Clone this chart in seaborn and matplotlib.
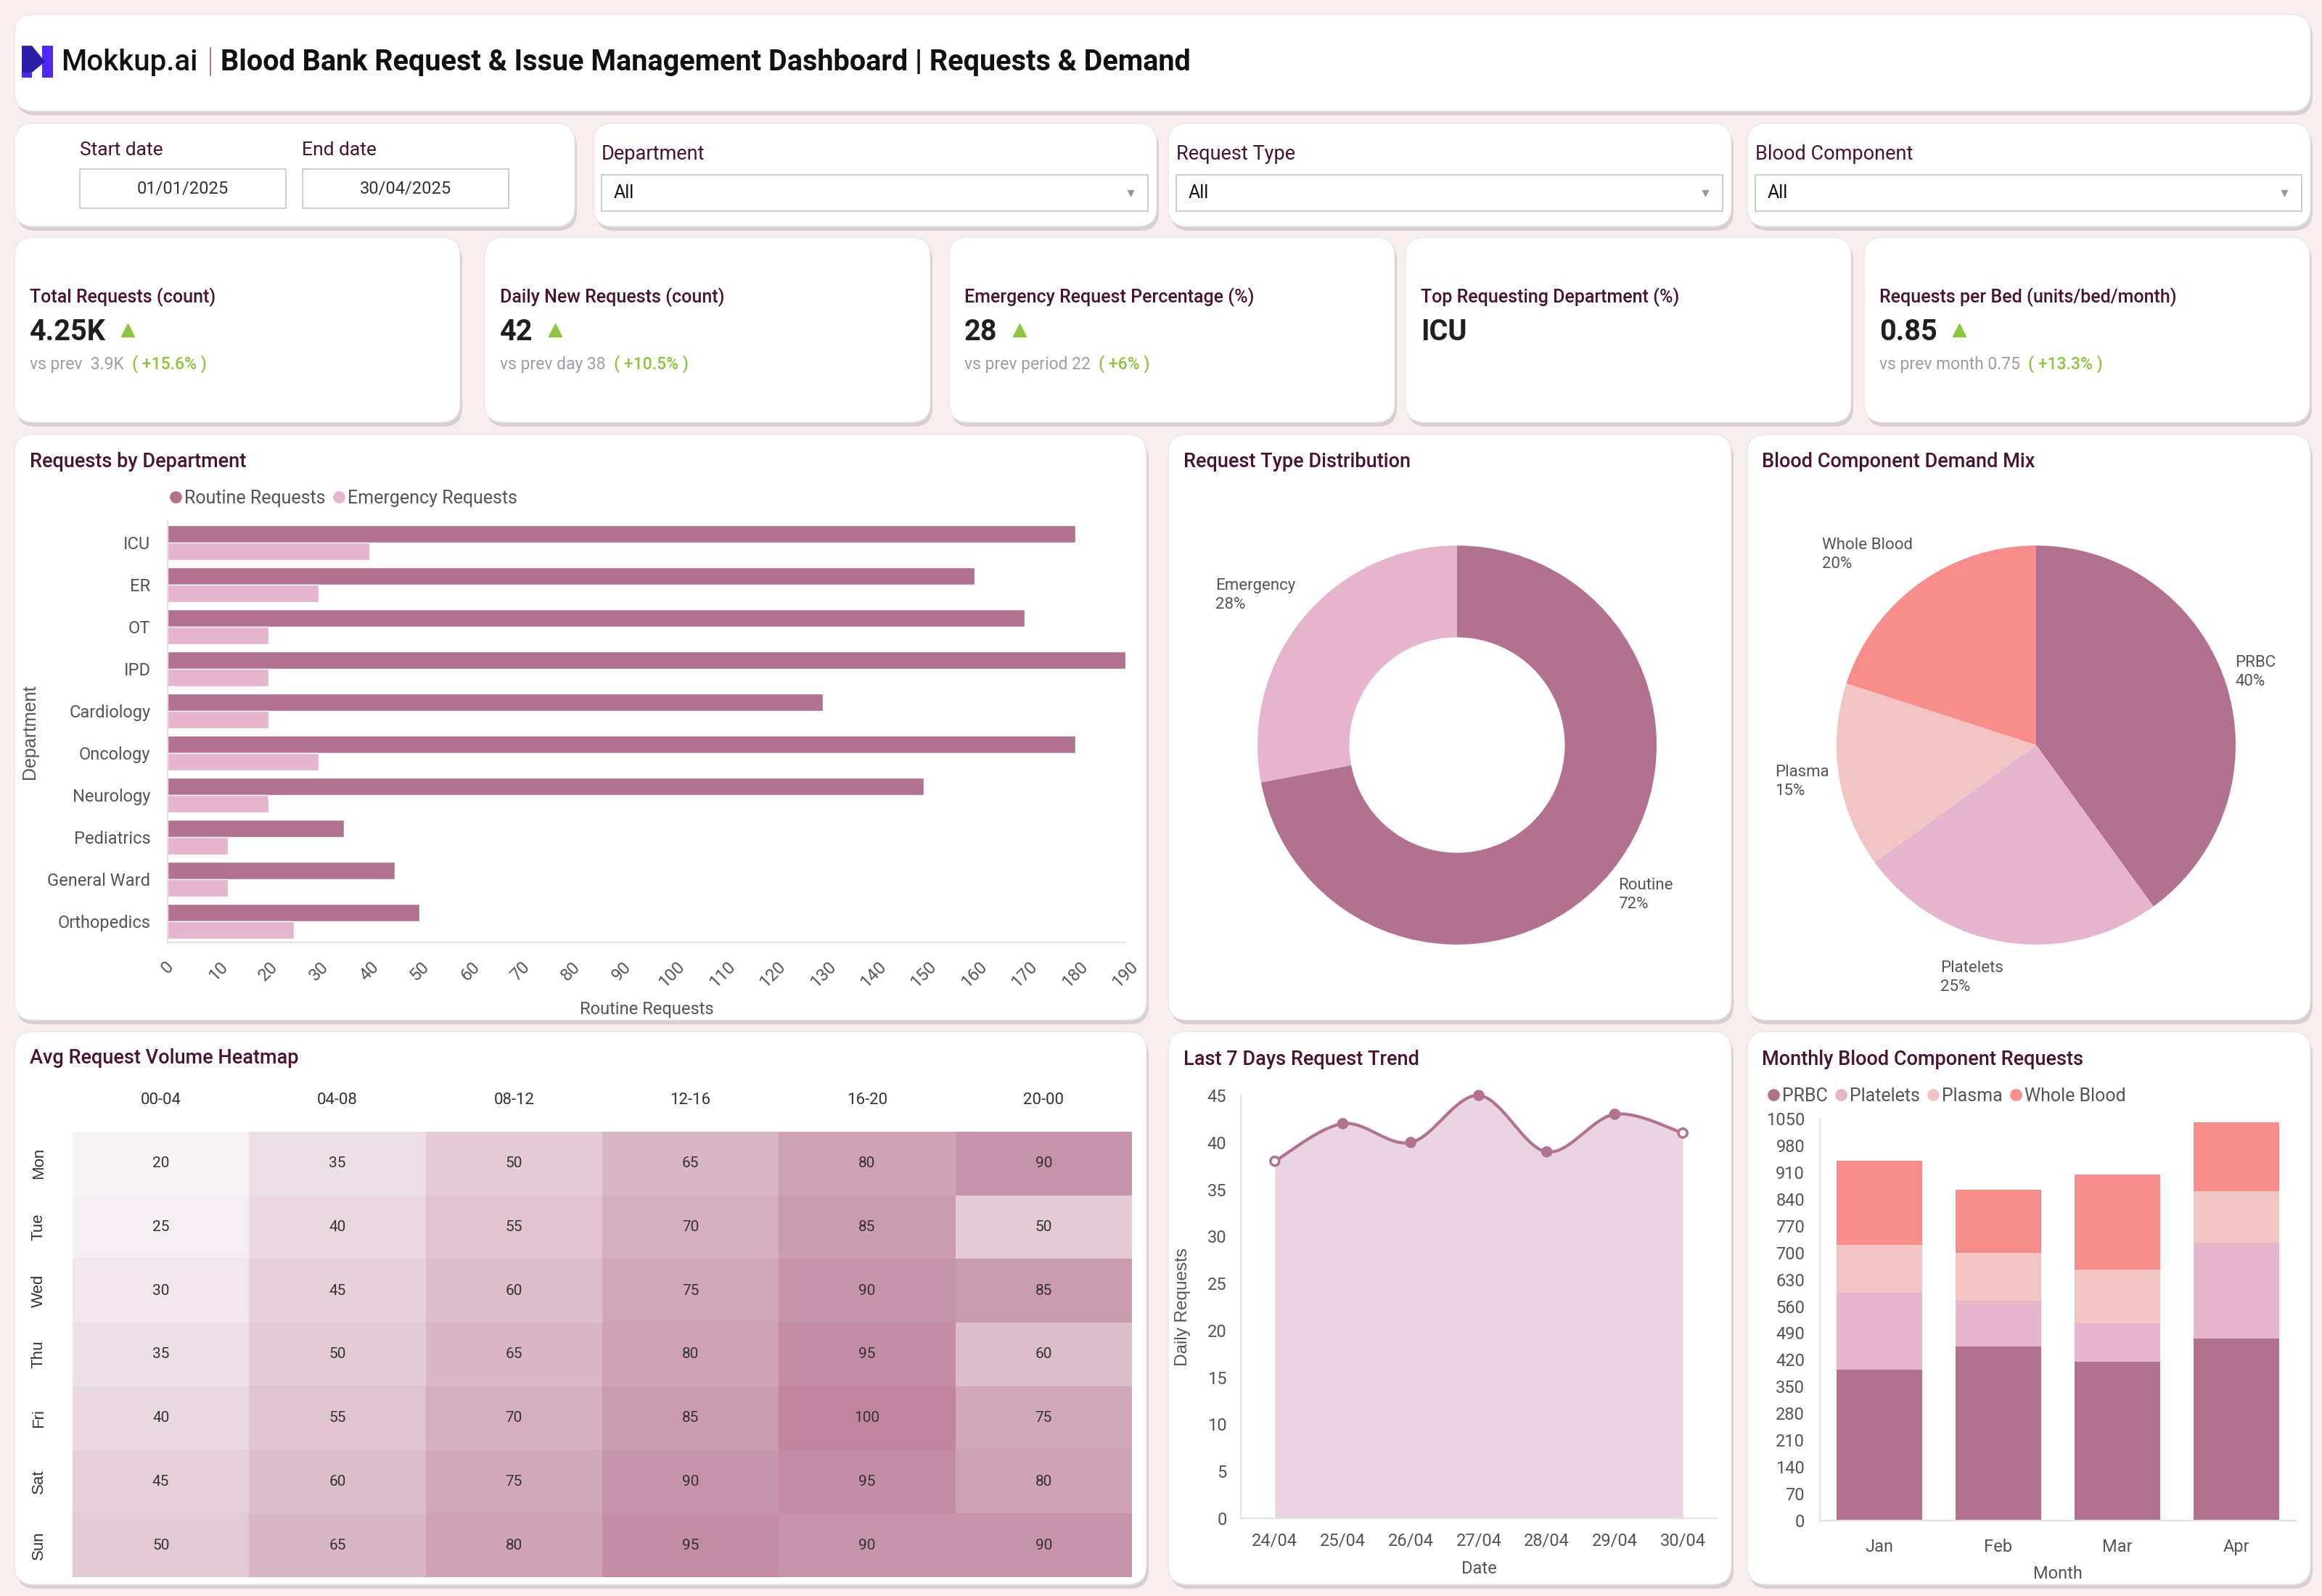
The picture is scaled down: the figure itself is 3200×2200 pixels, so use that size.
import numpy as np
import pandas as pd
import matplotlib.pyplot as plt
import seaborn as sns
from matplotlib.patches import FancyBboxPatch, Polygon, Rectangle
from matplotlib.colors import LinearSegmentedColormap
from matplotlib.lines import Line2D

# 데이터
departments = ['ICU', 'ER', 'OT', 'IPD', 'Cardiology', 'Oncology', 'Neurology',
               'Pediatrics', 'General Ward', 'Orthopedics']
routine_req = [180, 160, 170, 190, 130, 180, 150, 35, 45, 50]
emergency_req = [40, 30, 20, 20, 20, 30, 20, 12, 12, 25]

req_types = ['Routine', 'Emergency']
req_share = [72, 28]

components = ['PRBC', 'Platelets', 'Plasma', 'Whole Blood']
component_share = [40, 25, 15, 20]

days = ['Mon', 'Tue', 'Wed', 'Thu', 'Fri', 'Sat', 'Sun']
slots = ['00-04', '04-08', '08-12', '12-16', '16-20', '20-00']
heat_values = [
    [20, 35, 50, 65, 80, 90],
    [25, 40, 55, 70, 85, 50],
    [30, 45, 60, 75, 90, 85],
    [35, 50, 65, 80, 95, 60],
    [40, 55, 70, 85, 100, 75],
    [45, 60, 75, 90, 95, 80],
    [50, 65, 80, 95, 90, 90],
]

trend_dates = ['24/04', '25/04', '26/04', '27/04', '28/04', '29/04', '30/04']
trend_values = [38, 42, 40, 45, 39, 43, 41]

months = ['Jan', 'Feb', 'Mar', 'Apr']
prbc = [395, 455, 415, 475]
platelets = [200, 120, 100, 250]
plasma = [125, 125, 140, 135]
whole_blood = [220, 165, 250, 180]

# 색상
BG = '#f9eeee'
ROUTINE = '#b37190'
EMERG = '#e6b4cd'
PLASMA = '#f3c4c4'
WB = '#f78e8c'
FILL = '#e8d5e1'
TITLE_C = '#4a1230'
TICK_C = '#555555'
GREEN = '#8cc63f'

sns.set_theme(style='white')
plt.rcParams['font.family'] = ['Roboto', 'DejaVu Sans']
plt.rcParams['axes.unicode_minus'] = False

W, H = 3200, 2200
fig = plt.figure(figsize=(32, 22), dpi=100)
fig.patch.set_facecolor(BG)
bg = fig.add_axes([0, 0, 1, 1])
bg.set_xlim(0, W)
bg.set_ylim(H, 0)
bg.axis('off')
renderer = fig.canvas.get_renderer()


def card(x, y, w, h):
    bg.add_patch(FancyBboxPatch((x + 3, y + 6), w, h, boxstyle='round,pad=0,rounding_size=26',
                                fc='#d9cfd2', ec='none'))
    bg.add_patch(FancyBboxPatch((x, y), w, h, boxstyle='round,pad=0,rounding_size=26',
                                fc='white', ec='#efe6e8', lw=1))


def px_axes(x, y, w, h):
    ax = fig.add_axes([x / W, 1 - (y + h) / H, w / W, h / H])
    ax.set_facecolor('none')
    return ax


def inline(x, y, parts):
    for s, kw in parts:
        t = bg.text(x, y, s, va='center', ha='left', **kw)
        x += t.get_window_extent(renderer=renderer).width
    return x


def style_axes(ax):
    sns.despine(ax=ax)
    for sp in ['left', 'bottom']:
        ax.spines[sp].set_color('#e2e2e2')
        ax.spines[sp].set_linewidth(1.5)
    ax.grid(False)
    ax.tick_params(length=0, labelsize=17, labelcolor=TICK_C)


# 헤더
card(20, 20, 3164, 133)
bg.add_patch(Rectangle((58, 63), 15, 44, fc='#4b2bf2', ec='none'))
bg.add_patch(Rectangle((30, 76), 14, 31, fc='#4b2bf2', ec='none'))
bg.add_patch(Polygon([(30, 63), (44, 63), (62, 85), (44, 100), (30, 100)], closed=True, fc='#2c1fa8', ec='none'))
bg.text(84, 86, 'Mokkup.ai', fontsize=29, fontweight='medium', color='#111111', va='center')
bg.plot([290, 290], [66, 104], color='#b07a92', lw=1.5)
bg.text(304, 86, 'Blood Bank Request & Issue Management Dashboard | Requests & Demand',
        fontsize=28.5, fontweight='bold', color='#111111', va='center')

# 필터
card(20, 170, 772, 142)
bg.text(110, 207, 'Start date', fontsize=19, color=TITLE_C, va='center')
bg.text(416, 207, 'End date', fontsize=19, color=TITLE_C, va='center')
for bx, val in [(110, '01/01/2025'), (417, '30/04/2025')]:
    bg.add_patch(Rectangle((bx, 233), 284, 54, fc='white', ec='#cfcfcf', lw=1.5))
    bg.text(bx + 142, 260, val, fontsize=17, color='#333333', ha='center', va='center')

for cx, label in [(818, 'Department'), (1610, 'Request Type'), (2408, 'Blood Component')]:
    card(cx, 170, 776, 142)
    bg.text(cx + 11, 213, label, fontsize=19.5, color=TITLE_C, va='center')
    bg.add_patch(Rectangle((cx + 11, 241), 753, 50, fc='white', ec='#cfcfcf', lw=1.5))
    bg.text(cx + 28, 266, 'All', fontsize=18, color='#111111', va='center')
    bg.plot([cx + 740], [266], marker='v', color='#999999', markersize=6)

# KPI 카드
kpis = [
    (20, 'Total Requests (count)', '4.25K', 'vs prev  3.9K  ', '( +15.6% )'),
    (668, 'Daily New Requests (count)', '42', 'vs prev day 38  ', '( +10.5% )'),
    (1308, 'Emergency Request Percentage (%)', '28', 'vs prev period 22  ', '( +6% )'),
    (1937, 'Top Requesting Department (%)', 'ICU', None, None),
    (2569, 'Requests per Bed (units/bed/month)', '0.85', 'vs prev month 0.75  ', '( +13.3% )'),
]
for kx, title, val, prev, delta in kpis:
    card(kx, 327, 614, 255)
    bg.text(kx + 21, 410, title, fontsize=18, fontweight='medium', color=TITLE_C, va='center')
    end = inline(kx + 21, 458, [(val, dict(fontsize=28.5, fontweight='bold', color='#1f1f1f'))])
    if prev:
        bg.plot([end + 30], [455], marker='^', color=GREEN, markersize=13)
        inline(kx + 21, 502, [(prev, dict(fontsize=16.5, color='#9aa0a6')),
                              (delta, dict(fontsize=16.5, color=GREEN, fontweight='medium'))])

# 중간 줄 카드
card(20, 599, 1560, 807)
card(1610, 599, 776, 807)
card(2408, 599, 776, 807)
bg.text(41, 637, 'Requests by Department', fontsize=19.5, fontweight='medium', color=TITLE_C, va='center')
bg.text(1631, 637, 'Request Type Distribution', fontsize=19.5, fontweight='medium', color=TITLE_C, va='center')
bg.text(2428, 637, 'Blood Component Demand Mix', fontsize=19.5, fontweight='medium', color=TITLE_C, va='center')

# 부서별 요청
dept_df = pd.DataFrame({
    'Department': departments * 2,
    'Requests': routine_req + emergency_req,
    'Type': ['Routine Requests'] * len(departments) + ['Emergency Requests'] * len(departments),
})
ax1 = px_axes(231, 719, 1320, 580)
sns.barplot(data=dept_df, y='Department', x='Requests', hue='Type', palette=[ROUTINE, EMERG],
            width=0.82, saturation=1, legend=False, ax=ax1)
style_axes(ax1)
ax1.set_xlim(0, 190)
ax1.set_xticks(range(0, 191, 10))
ax1.tick_params(axis='x', labelrotation=45, pad=16)
ax1.tick_params(axis='y', pad=17)
ax1.set_ylabel('Department', fontsize=18, color=TICK_C, family=['Liberation Sans', 'DejaVu Sans'])
ax1.yaxis.set_label_coords(-0.135, 0.5)
ax1.set_xlabel('Routine Requests', fontsize=17, color=TICK_C)
ax1.xaxis.set_label_coords(0.5, -0.14)
handles = [Line2D([], [], marker='o', ls='', color=c, markersize=11) for c in [ROUTINE, EMERG]]
ax1.legend(handles, ['Routine Requests', 'Emergency Requests'], ncol=2, frameon=False,
           loc='center left', bbox_to_anchor=(232 / W, 1 - 687 / H), bbox_transform=fig.transFigure,
           fontsize=18, labelcolor=TICK_C, handletextpad=0.1, columnspacing=0.3, handlelength=0.8,
           borderaxespad=0, borderpad=0)


def pie_labels(ax, wedges, names, vals):
    for wd, n, v in zip(wedges, names, vals):
        ang = np.deg2rad((wd.theta1 + wd.theta2) / 2)
        x, y = 1.05 * np.cos(ang), 1.18 * np.sin(ang)
        ax.text(x, y, f'{n}\n{v}%', ha='right' if x < 0 else 'left', va='center',
                multialignment='left', fontsize=16, color=TICK_C, linespacing=1.3)


# 요청 유형 도넛
ax2 = px_axes(2008 - 275, 1027 - 275, 550, 550)
w2, _ = ax2.pie(req_share, colors=[ROUTINE, EMERG], startangle=90, counterclock=False,
                radius=1, wedgeprops=dict(width=0.46, linewidth=0))
ax2.set_xlim(-1, 1)
ax2.set_ylim(-1, 1)
pie_labels(ax2, w2, req_types, req_share)

# 혈액 성분 파이
ax3 = px_axes(2806 - 275, 1027 - 275, 550, 550)
w3, _ = ax3.pie(component_share, colors=[ROUTINE, EMERG, PLASMA, WB], startangle=90,
                counterclock=False, radius=1, wedgeprops=dict(linewidth=0))
ax3.set_xlim(-1, 1)
ax3.set_ylim(-1, 1)
pie_labels(ax3, w3, components, component_share)

# 아래 줄 카드
card(20, 1422, 1560, 762)
card(1610, 1422, 776, 762)
card(2408, 1422, 776, 762)
bg.text(41, 1459, 'Avg Request Volume Heatmap', fontsize=19.5, fontweight='medium', color=TITLE_C, va='center')
bg.text(1631, 1461, 'Last 7 Days Request Trend', fontsize=19.5, fontweight='medium', color=TITLE_C, va='center')
bg.text(2428, 1461, 'Monthly Blood Component Requests', fontsize=19.5, fontweight='medium', color=TITLE_C, va='center')

# 히트맵
heat_df = pd.DataFrame(heat_values, index=days, columns=slots)
cmap = LinearSegmentedColormap.from_list('pinkheat', ['#f8f4f6', '#c0869f'])
ax4 = px_axes(100, 1560, 1460, 614)
sns.heatmap(heat_df, ax=ax4, cmap=cmap, vmin=20, vmax=100, annot=True, fmt='d', cbar=False,
            annot_kws={'fontsize': 15, 'color': '#333333'})
ax4.xaxis.tick_top()
ax4.tick_params(length=0, labelsize=16, labelcolor='#333333')
ax4.tick_params(axis='x', pad=24)
ax4.tick_params(axis='y', pad=26)
ax4.set_yticklabels(days, rotation=90, va='center', family=['Liberation Sans', 'DejaVu Sans'])
ax4.set_xlabel('')
ax4.set_ylabel('')


# 최근 7일 추이 (곡선으로 그리기)
def smooth(xs, ys, n=40):
    p = np.column_stack([xs, ys]).astype(float)
    p = np.vstack([p[0], p, p[-1]])
    t = np.linspace(0, 1, n, endpoint=False)[:, None]
    out = []
    for i in range(1, len(p) - 2):
        p0, p1, p2, p3 = p[i - 1], p[i], p[i + 1], p[i + 2]
        out.append(0.5 * ((2 * p1) + (-p0 + p2) * t + (2 * p0 - 5 * p1 + 4 * p2 - p3) * t ** 2
                          + (-p0 + 3 * p1 - 3 * p2 + p3) * t ** 3))
    out.append(p[-2][None, :])
    out = np.vstack(out)
    return out[:, 0], out[:, 1]


xpos = np.arange(len(trend_dates))
sx, sy = smooth(xpos, trend_values)
ax5 = px_axes(1710, 1510, 656, 583)
ax5.fill_between(sx, sy, 0, color=FILL, lw=0, clip_on=False)
ax5.plot(sx, sy, color=ROUTINE, lw=3, clip_on=False)
face = ['white' if i in (0, len(xpos) - 1) else ROUTINE for i in range(len(xpos))]
ax5.scatter(xpos, trend_values, s=75, c=face, edgecolors=ROUTINE, linewidths=2.5, zorder=5, clip_on=False)
style_axes(ax5)
ax5.set_xlim(-0.5, 6.5)
ax5.set_ylim(0, 45)
ax5.set_yticks(range(0, 46, 5))
ax5.set_xticks(xpos, trend_dates)
ax5.tick_params(axis='y', pad=14)
ax5.tick_params(axis='x', pad=14)
ax5.set_ylabel('Daily Requests', fontsize=17.5, color=TICK_C, family=['Liberation Sans', 'DejaVu Sans'])
ax5.yaxis.set_label_coords(-0.105, 0.5)
ax5.set_xlabel('Date', fontsize=17, color=TICK_C)
ax5.xaxis.set_label_coords(0.5, -0.1)

# 월별 혈액 성분 누적 막대
ax6 = px_axes(2508, 1542, 656, 554)
bottom = np.zeros(len(months))
for vals, c in zip([prbc, platelets, plasma, whole_blood], [ROUTINE, EMERG, PLASMA, WB]):
    ax6.bar(months, vals, bottom=bottom, color=c, width=0.72, lw=0)
    bottom += np.array(vals)
style_axes(ax6)
ax6.set_xlim(-0.5, 3.5)
ax6.set_ylim(0, 1050)
ax6.set_yticks(range(0, 1051, 70))
ax6.tick_params(axis='y', pad=15)
ax6.tick_params(axis='x', pad=18)
ax6.set_xlabel('Month', fontsize=17, color=TICK_C)
ax6.xaxis.set_label_coords(0.5, -0.112)
handles = [Line2D([], [], marker='o', ls='', color=c, markersize=11) for c in [ROUTINE, EMERG, PLASMA, WB]]
ax6.legend(handles, components, ncol=4, frameon=False, loc='center left',
           bbox_to_anchor=(2434 / W, 1 - 1511 / H), bbox_transform=fig.transFigure,
           fontsize=18, labelcolor=TICK_C, handletextpad=0.1, columnspacing=0.3, handlelength=0.8,
           borderaxespad=0, borderpad=0)

fig.savefig('out.png', dpi=100, facecolor=BG)
